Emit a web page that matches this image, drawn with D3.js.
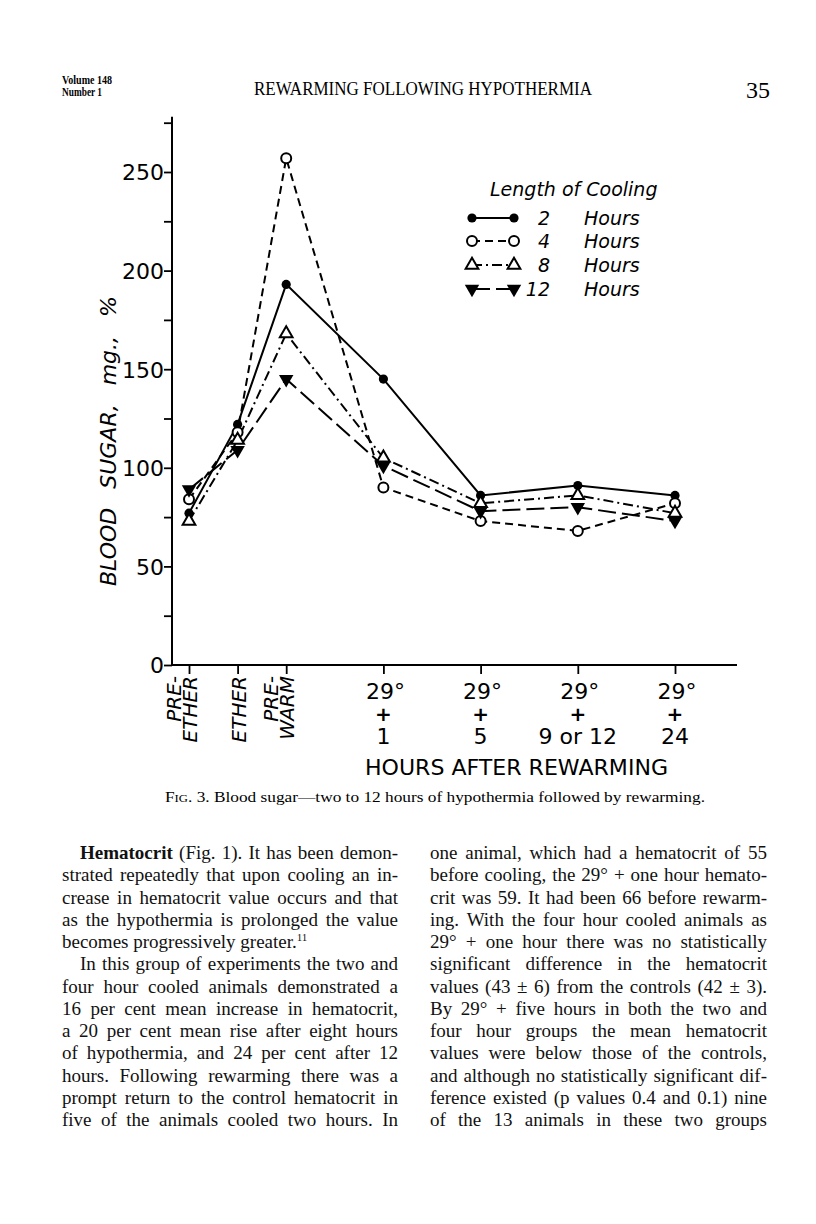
<!DOCTYPE html>
<html>
<head>
<meta charset="utf-8">
<script src="https://cdn.jsdelivr.net/npm/d3@7/dist/d3.min.js"></script>
<style>
  body { margin: 0; background: #fff; }
  svg { display: block; }
</style>
</head>
<body>
<div id="page"></div>
<script>
//<data>----------------------------------------//
var categories = ["PRE-ETHER", "ETHER", "PRE-WARM", "29+1", "29+5", "29+9or12", "29+24"];
var catPos = [0, 0.5, 1, 2, 3, 4, 5];
var twoHours = [77, 122, 193, 145, 86, 91, 86];
var fourHours = [84, 118, 257, 90, 73, 68, 82];
var eightHours = [73, 114, 168, 105, 82, 86, 77];
var twelveHours = [89, 109, 145, 101, 78, 80, 73];
var seriesNames = ["2", "4", "8", "12"];
var yTicks = [0, 25, 50, 75, 100, 125, 150, 175, 200, 225, 250, 275];
var yLabels = [0, 50, 100, 150, 200, 250];
var rotLabels = [["PRE-", "ETHER"], ["ETHER"], ["PRE-", "WARM"]];
var hourLabels = ["1", "5", "9 or 12", "24"];

var leftLines = [
  "Hematocrit (Fig. 1). It has been demon-",
  "strated repeatedly that upon cooling an in-",
  "crease in hematocrit value occurs and that",
  "as the hypothermia is prolonged the value",
  "becomes progressively greater.",
  "In this group of experiments the two and",
  "four hour cooled animals demonstrated a",
  "16 per cent mean increase in hematocrit,",
  "a 20 per cent mean rise after eight hours",
  "of hypothermia, and 24 per cent after 12",
  "hours. Following rewarming there was a",
  "prompt return to the control hematocrit in",
  "five of the animals cooled two hours. In"
];
var rightLines = [
  "one animal, which had a hematocrit of 55",
  "before cooling, the 29° + one hour hemato-",
  "crit was 59. It had been 66 before rewarm-",
  "ing. With the four hour cooled animals as",
  "29° + one hour there was no statistically",
  "significant difference in the hematocrit",
  "values (43 ± 6) from the controls (42 ± 3).",
  "By 29° + five hours in both the two and",
  "four hour groups the mean hematocrit",
  "values were below those of the controls,",
  "and although no statistically significant dif-",
  "ference existed (p values 0.4 and 0.1) nine",
  "of the 13 animals in these two groups"
];

var series = [
  { name: seriesNames[0], values: twoHours, dash: null, marker: "dot" },
  { name: seriesNames[1], values: fourHours, dash: "8,5", marker: "circle" },
  { name: seriesNames[2], values: eightHours, dash: "10,4,2,4", marker: "tri" },
  { name: seriesNames[3], values: twelveHours, dash: "18,6", marker: "itri" }
];

//<svg>-----------------------------------------//
var W = 816, H = 1224;
var svg = d3.select("#page").append("svg").attr("width", W).attr("height", H);
var sans = "'DejaVu Sans', sans-serif";
var serif = "'Liberation Serif', 'Times New Roman', serif";

//<header>--------------------------------------//
svg.append("text").attr("x", 62).attr("y", 84).text("Volume 148")
  .attr("font-family", serif).attr("font-weight", "bold").attr("font-size", 12)
  .attr("textLength", 50).attr("lengthAdjust", "spacingAndGlyphs");
svg.append("text").attr("x", 62).attr("y", 96).text("Number 1")
  .attr("font-family", serif).attr("font-weight", "bold").attr("font-size", 12)
  .attr("textLength", 40).attr("lengthAdjust", "spacingAndGlyphs");
svg.append("text").attr("x", 254).attr("y", 95).text("REWARMING FOLLOWING HYPOTHERMIA")
  .attr("font-family", serif).attr("font-size", 18)
  .attr("textLength", 338).attr("lengthAdjust", "spacingAndGlyphs");
svg.append("text").attr("x", 746).attr("y", 98).text("35")
  .attr("font-family", serif).attr("font-size", 24);

//<scales>--------------------------------------//
var x = d3.scaleLinear().domain([0, 5]).range([189, 675]);
var y = d3.scaleLinear().domain([0, 250]).range([665, 172]);
var axisX0 = 172;

//<axes>----------------------------------------//
var gy = svg.append("g").attr("transform", "translate(" + axisX0 + ",0)");
gy.call(d3.axisLeft(y).tickValues(yTicks).tickSize(8)
  .tickFormat(function (d) { return yLabels.indexOf(d) >= 0 ? d : ""; }));
gy.select(".domain").remove();
gy.selectAll(".tick line").attr("stroke", "#000").attr("stroke-width", 1.8);
gy.selectAll(".tick text").attr("font-family", sans).attr("font-size", 22)
  .attr("fill", "#000").attr("x", -8).attr("dy", "0.36em");
svg.append("line").attr("x1", axisX0).attr("x2", axisX0)
  .attr("y1", y(278)).attr("y2", y(0)).attr("stroke", "#000").attr("stroke-width", 2);

var gx = svg.append("g").attr("transform", "translate(0," + y(0) + ")");
gx.call(d3.axisBottom(x).tickValues(catPos).tickSize(9).tickFormat(""));
gx.select(".domain").remove();
gx.selectAll(".tick line").attr("stroke", "#000").attr("stroke-width", 1.8);
svg.append("line").attr("x1", axisX0).attr("x2", 737)
  .attr("y1", y(0)).attr("y2", y(0)).attr("stroke", "#000").attr("stroke-width", 2);

// rotated category labels
rotLabels.forEach(function (lines, i) {
  var cx = x(catPos[i]);
  var offs = lines.length == 2 ? [-8, 8] : [8];
  lines.forEach(function (t, j) {
    svg.append("text").text(t)
      .attr("transform", "translate(" + (cx + offs[j]) + ",676) rotate(-90)")
      .attr("text-anchor", "end").attr("font-family", sans).attr("font-style", "italic")
      .attr("font-size", 20).attr("fill", "#000");
  });
});
// 29° + n labels
hourLabels.forEach(function (t, i) {
  var cx = x(catPos[i + 3]);
  svg.append("text").attr("x", cx + 2).attr("y", 699).text("29°")
    .attr("text-anchor", "middle").attr("font-family", sans).attr("font-size", 22);
  svg.append("text").attr("x", cx).attr("y", 721).text("+")
    .attr("text-anchor", "middle").attr("font-family", sans).attr("font-size", 20).attr("font-weight", "bold");
  svg.append("text").attr("x", cx).attr("y", 744).text(t)
    .attr("text-anchor", "middle").attr("font-family", sans).attr("font-size", 22);
});
svg.append("text").attr("x", 365).attr("y", 775).text("HOURS AFTER REWARMING")
  .attr("font-family", sans).attr("font-size", 21)
  .attr("textLength", 303).attr("lengthAdjust", "spacingAndGlyphs");

svg.append("text").attr("transform", "translate(116,441) rotate(-90)")
  .attr("text-anchor", "middle").attr("font-family", sans).attr("font-style", "italic")
  .attr("font-size", 22).attr("word-spacing", 12).text("BLOOD SUGAR, mg., %");

//<lines>---------------------------------------//
var line = d3.line().x(function (d) { return x(d[0]); }).y(function (d) { return y(d[1]); });
var plot = svg.append("g");
series.forEach(function (s) {
  plot.append("path").datum(s.values.map(function (v, i) { return [catPos[i], v]; }))
    .attr("d", line).attr("fill", "none").attr("stroke", "#000").attr("stroke-width", 2)
    .attr("stroke-dasharray", s.dash);
});

function drawMarker(g, type, px, py) {
  if (type == "dot") {
    g.append("circle").attr("cx", px).attr("cy", py).attr("r", 4.6).attr("fill", "#000");
  } else if (type == "circle") {
    g.append("circle").attr("cx", px).attr("cy", py).attr("r", 5).attr("fill", "#fff")
      .attr("stroke", "#000").attr("stroke-width", 2);
  } else if (type == "tri") {
    g.append("path").attr("d", d3.symbol().type(d3.symbolTriangle).size(70)())
      .attr("transform", "translate(" + px + "," + py + ")")
      .attr("fill", "#fff").attr("stroke", "#000").attr("stroke-width", 2);
  } else {
    g.append("path").attr("d", d3.symbol().type(d3.symbolTriangle).size(90)())
      .attr("transform", "translate(" + px + "," + py + ") rotate(180)")
      .attr("fill", "#000");
  }
}
series.forEach(function (s) {
  s.values.forEach(function (v, i) { drawMarker(plot, s.marker, x(catPos[i]), y(v)); });
});

//<legend>--------------------------------------//
var lg = svg.append("g");
lg.append("text").attr("x", 490).attr("y", 196).text("Length of Cooling")
  .attr("font-family", sans).attr("font-style", "italic").attr("font-size", 19);
var legY = [218, 241, 265, 289];
series.forEach(function (s, i) {
  lg.append("line").attr("x1", 472).attr("x2", 514).attr("y1", legY[i]).attr("y2", legY[i])
    .attr("stroke", "#000").attr("stroke-width", 2).attr("stroke-dasharray", s.dash);
  drawMarker(lg, s.marker, 472, legY[i]);
  drawMarker(lg, s.marker, 514, legY[i]);
  lg.append("text").attr("x", 550).attr("y", legY[i] + 7).text(s.name)
    .attr("text-anchor", "end").attr("font-family", sans).attr("font-style", "italic").attr("font-size", 19);
  lg.append("text").attr("x", 584).attr("y", legY[i] + 7).text("Hours")
    .attr("font-family", sans).attr("font-style", "italic").attr("font-size", 19);
});

//<caption>-------------------------------------//
var cap = svg.append("text").attr("x", 165).attr("y", 802).attr("font-family", serif).attr("font-size", 15)
  .attr("textLength", 540).attr("lengthAdjust", "spacingAndGlyphs");
cap.append("tspan").text("F");
cap.append("tspan").attr("font-size", 11).text("IG");
cap.append("tspan").text(". 3. Blood sugar—two to 12 hours of hypothermia followed by rewarming.");

//<body text>-----------------------------------//
function column(lines, x0, width, indents, lastLines) {
  lines.forEach(function (t, i) {
    var ind = indents.indexOf(i) >= 0 ? 18 : 0;
    var ty = 859 + i * 22.25;
    var tx = svg.append("text").attr("x", x0 + ind).attr("y", ty)
      .attr("font-family", serif).attr("font-size", 19).attr("fill", "#111");
    if (i == 0 && x0 < 100) {
      tx.append("tspan").attr("font-weight", "bold").text("Hematocrit");
      tx.append("tspan").text(t.slice(10));
    } else {
      tx.append("tspan").text(t);
    }
    if (i == 4 && x0 < 100) {
      tx.append("tspan").attr("font-size", 11).attr("dy", -7).text("11");
    }
    if (lastLines.indexOf(i) < 0) {
      var nat = tx.node().getComputedTextLength();
      var spaces = (t.match(/ /g) || []).length;
      if (spaces > 0) tx.attr("word-spacing", (width - ind - nat) / spaces);
    }
  });
}
column(leftLines, 62, 336, [0, 5], [4]);
column(rightLines, 430, 337, [], []);
</script>
</body>
</html>
